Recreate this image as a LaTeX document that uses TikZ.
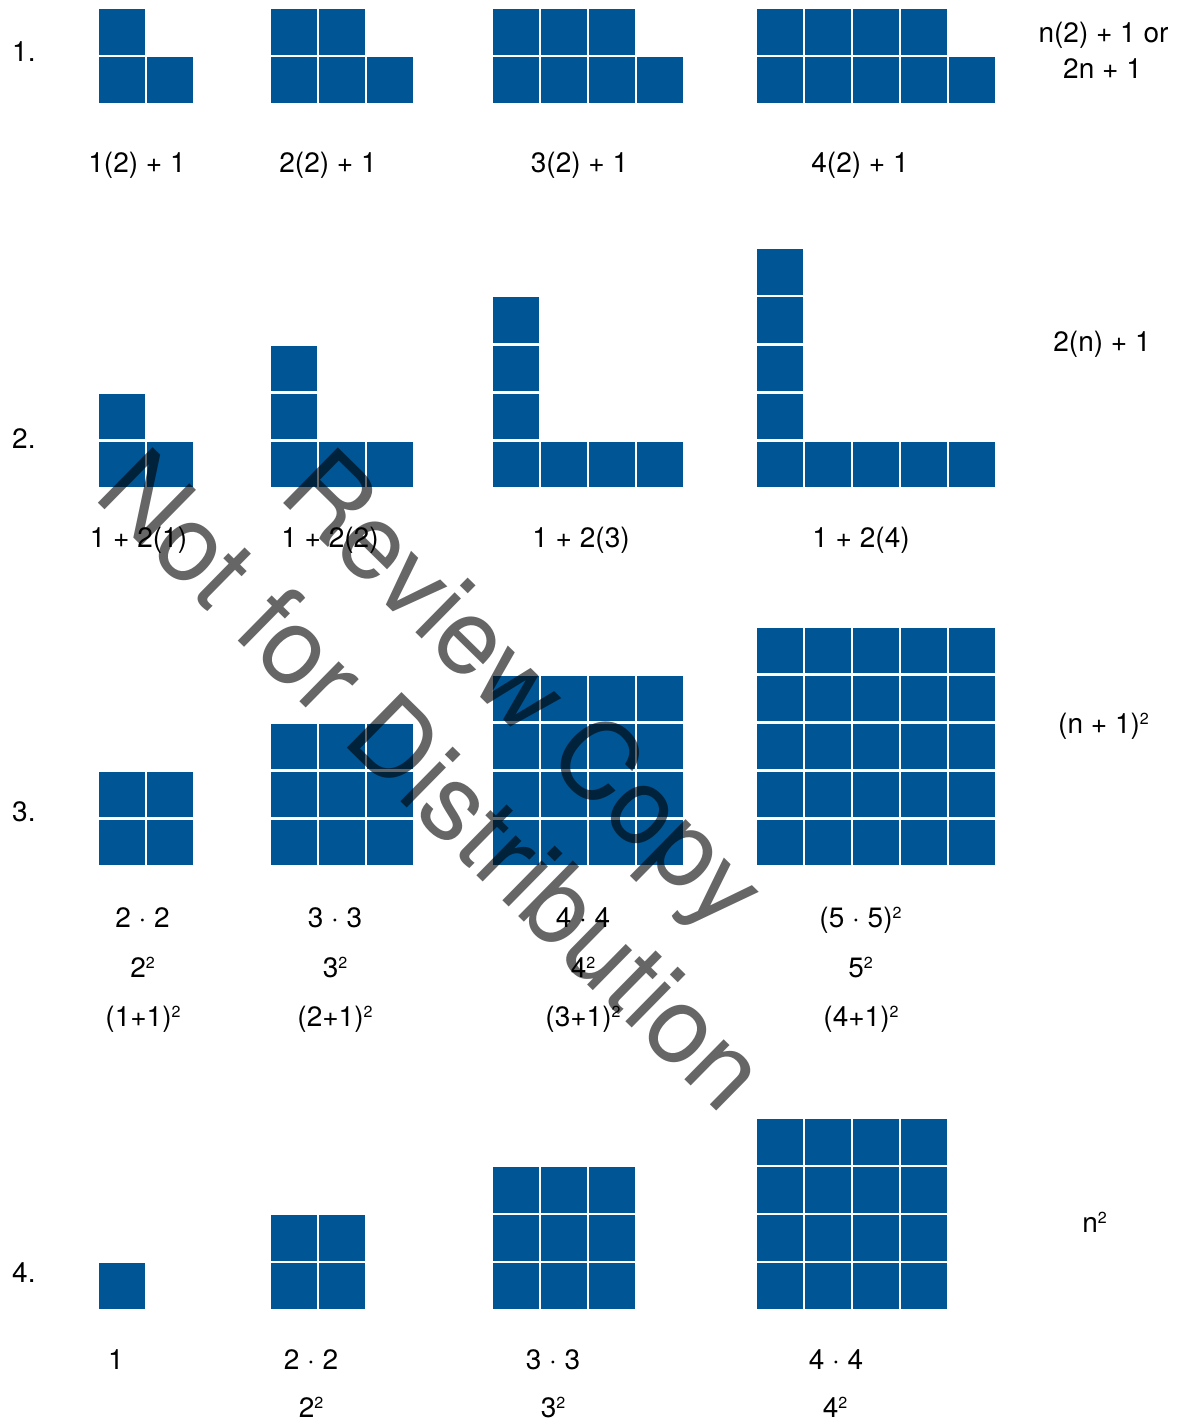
\documentclass[tikz,border=0pt]{standalone}
\usepackage{fontspec}
\setmainfont{TeX Gyre Heros}
\definecolor{tileblue}{HTML}{005594}
\newcommand\pwr{\raisebox{8.5pt}{\fontsize{16}{16}\selectfont 2}}

\begin{document}
\begin{tikzpicture}[x=1pt, y=-1pt,
    tile/.style={fill=tileblue},
    lbl/.style={anchor=base, inner sep=0pt, font=\fontsize{28}{34}\selectfont},
    wmark/.style={anchor=base, inner sep=0pt, rotate=-44.5, text=black, text opacity=0.6, font=\fontsize{107}{120}\selectfont}]
    \useasboundingbox (0,0) rectangle (1190,1420);

    % 第 1 行: 上面 n 块, 下面 n+1 块
    \foreach \n/\x in {1/99,2/271,3/493,4/757}{
        \foreach \i in {1,...,\n}
            \fill[tile] ({\x+(\i-1)*48},9.5) rectangle ++(45.5,45.5);
        \foreach \i in {0,...,\n}
            \fill[tile] ({\x+\i*48},57.5) rectangle ++(45.5,45.5);
    }

    % 第 2 行: L 形, 竖 n 块, 横 n+1 块
    \foreach \n/\x in {1/99,2/271,3/493,4/757}{
        \foreach \i in {0,...,\n}
            \fill[tile] ({\x+\i*48},441.5) rectangle ++(45.5,45.5);
        \foreach \j in {1,...,\n}
            \fill[tile] (\x,{441.5-\j*48}) rectangle ++(45.5,45.5);
    }

    % 第 3 行: (n+1) x (n+1) 正方形
    \foreach \n/\x in {1/99,2/271,3/493,4/757}{
        \foreach \i in {0,...,\n}
            \foreach \j in {0,...,\n}
                \fill[tile] ({\x+\i*48},{819.5-\j*48}) rectangle ++(45.5,45.5);
    }

    % 第 4 行: n x n 正方形
    \foreach \n/\x in {1/99,2/271,3/493,4/757}{
        \foreach \i in {1,...,\n}
            \foreach \j in {1,...,\n}
                \fill[tile] ({\x+(\i-1)*48},{1263-(\j-1)*48}) rectangle ++(45.5,45.5);
    }

    % 左侧编号
    \node[lbl, anchor=base west] (num1) at (12,62) {1.};
    \node[lbl, anchor=base west] (num2) at (12,448) {2.};
    \node[lbl, anchor=base west] (num3) at (12,821) {3.};
    \node[lbl, anchor=base west] (num4) at (12,1282) {4.};

    % 各图下方的式子
    \foreach \k/\x/\t in {1/137/{1(2) + 1}, 2/328/{2(2) + 1}, 3/579.5/{3(2) + 1}, 4/860/{4(2) + 1}}
        \node[lbl] (ra\k) at (\x,173) {\t};
    \foreach \k/\x/\t in {1/138.5/{1 + 2(1)}, 2/330/{1 + 2(2)}, 3/581/{1 + 2(3)}, 4/861/{1 + 2(4)}}
        \node[lbl] (rb\k) at (\x,547) {\t};
    \foreach \k/\x/\t in {1/142.5/{2 · 2}, 2/335/{3 · 3}, 3/583/{4 · 4}, 4/860.5/{(5 · 5)\pwr}}
        \node[lbl] (rc\k) at (\x,927) {\t};
    \foreach \k/\x/\t in {1/142.5/{2\pwr}, 2/335/{3\pwr}, 3/583/{4\pwr}, 4/860.5/{5\pwr}}
        \node[lbl] (rd\k) at (\x,977) {\t};
    \foreach \k/\x/\t in {1/143/{(1+1)\pwr}, 2/335/{(2+1)\pwr}, 3/583/{(3+1)\pwr}, 4/861/{(4+1)\pwr}}
        \node[lbl] (re\k) at (\x,1026) {\t};
    \foreach \k/\x/\t in {1/116/{1}, 2/311/{2 · 2}, 3/553/{3 · 3}, 4/836/{4 · 4}}
        \node[lbl] (rf\k) at (\x,1369) {\t};
    \foreach \k/\x/\t in {2/311/{2\pwr}, 3/553/{3\pwr}, 4/835/{4\pwr}}
        \node[lbl] (rg\k) at (\x,1417) {\t};

    % 右侧一般式
    \node[lbl] (ga) at (1103.5,43) {n(2) + 1 or};
    \node[lbl] (gb) at (1102.5,79) {2n + 1};
    \node[lbl] (gc) at (1102,351) {2(n) + 1};
    \node[lbl] (gd) at (1103.5,733) {(n + 1)\pwr};
    \node[lbl] (ge) at (1094.5,1232) {n\pwr};

    % 水印
    \node[wmark] (wm1) at (499,715) {Review Copy};
    \node[wmark] (wm2) at (407,807) {Not for Distribution};
\end{tikzpicture}
\end{document}
